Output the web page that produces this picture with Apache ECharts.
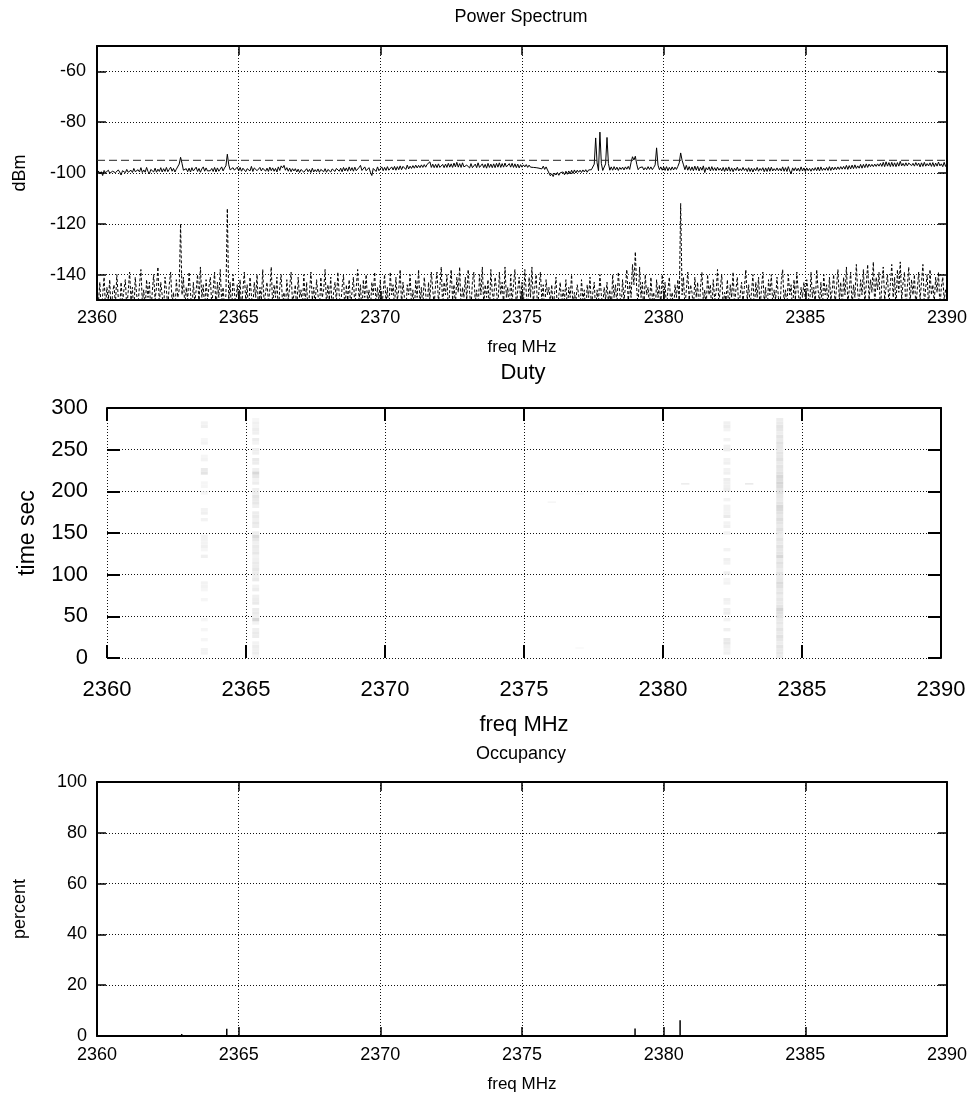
<!DOCTYPE html>
<html>
<head>
<meta charset="utf-8">
<title>Spectrum survey 2360–2390 MHz</title>
<script src="https://cdn.jsdelivr.net/npm/echarts@6/dist/echarts.min.js"></script>
<style>
  html, body { margin: 0; padding: 0; background: #fff; }
  #chart { width: 974px; height: 1095px; }
</style>
</head>
<body>
<div id="chart"></div>
<script>
// ---- sweep settings shared by the three panels ----
const FREQ_MIN = 2360, FREQ_MAX = 2390, FREQ_TICK = 5;
const BIN_MHZ = 0.05;            // sweep bin width
const THRESHOLD_DBM = -95;       // detection threshold

// Peak-hold power, dBm; each row starts at the given MHz and holds one value per bin
const SPECTRUM_ROWS = [
  [2360, [-100.6,-99.2,-100.3,-99.5,-101.0, -99.0,-99.9,-100.5,-98.9,-100.1, -100.7,-99.3,-98.6,-99.9,-100.4, -98.8,-99.6,-100.8,-99.1,-98.7]],
  [2361, [-99.9,-98.6,-99.7,-100.4,-98.9, -99.8,-98.2,-99.5,-100.2,-98.7, -99.6,-97.9,-99.8,-98.8,-99.7, -97.8,-99.4,-100.3,-98.6,-98.3]],
  [2362, [-99.6,-98.1,-99.7,-98.5,-99.4, -97.9,-99.6,-98.3,-99.4,-97.8, -99.5,-98.6,-97.7,-99.3,-98.2, -99.6,-98.5,-97.9,-96.5,-93.8]],
  [2363, [-96.2,-98.9,-99.4,-98.3,-99.5, -98.1,-99.6,-97.9,-99.2,-98.8, -97.7,-99.4,-98.2,-99.7,-98.4, -97.6,-99.3,-98.0,-99.2,-98.6]],
  [2364, [-99.1,-98.2,-99.4,-97.8,-99.6, -98.0,-99.3,-98.5,-97.6,-99.2, -98.0,-97.2,-92.6,-96.8,-98.8, -99.3,-97.9,-98.9,-99.4,-97.7]],
  [2365, [-99.2,-97.8,-99.3,-98.1,-97.6, -99.5,-98.3,-97.7,-99.2,-97.4, -99.4,-98.0,-97.6,-99.1,-99.6, -97.8,-99.2,-98.1,-97.5,-99.3]],
  [2366, [-98.1,-99.4,-97.7,-99.1,-98.0, -99.3,-98.2,-99.6,-97.6,-99.0, -97.2,-98.0,-97.0,-98.9,-97.9, -99.3,-98.1,-99.5,-98.3,-99.2]],
  [2367, [-98.3,-99.6,-98.5,-99.8,-98.6, -98.0,-99.7,-99.9,-98.3,-99.5, -98.6,-99.8,-98.1,-99.6,-98.7, -99.5,-98.4,-99.7,-98.6,-98.0]],
  [2368, [-99.5,-98.3,-99.7,-98.6,-98.0, -99.6,-98.4,-97.9,-99.4,-98.2, -97.9,-99.3,-98.1,-99.5,-97.8, -99.2,-98.0,-99.3,-97.6,-99.1]],
  [2369, [-97.9,-99.3,-97.7,-99.1,-99.4, -97.8,-97.0,-99.0,-99.2,-97.6, -99.1,-99.4,-97.9,-99.7,-101.0, -98.2,-97.7,-99.4,-97.6,-99.1]],
  [2370, [-99.3,-97.6,-99.1,-97.8,-99.0, -97.5,-98.9,-99.2,-97.6,-98.8, -97.4,-98.9,-97.5,-98.7,-97.2, -98.7,-97.4,-97.1,-98.6,-96.9]],
  [2371, [-98.4,-97.3,-98.2,-97.1,-98.1, -96.9,-98.0,-97.0,-97.9,-96.8, -97.8,-96.7,-97.7,-96.6,-96.2, -95.6,-97.8,-96.5,-97.9,-96.6]],
  [2372, [-97.9,-96.4,-97.8,-98.0,-96.6, -97.9,-96.5,-97.8,-96.2,-97.7, -96.4,-97.8,-96.1,-97.6,-95.8, -97.7,-96.3,-97.8,-96.0,-97.6]],
  [2373, [-97.8,-96.9,-97.6,-98.0,-96.3, -97.9,-98.1,-96.5,-97.9,-96.0, -97.8,-98.0,-96.4,-97.9,-96.6, -98.1,-96.2,-97.8,-96.5,-97.9]],
  [2374, [-96.4,-97.9,-96.2,-97.7,-96.0, -97.8,-96.3,-97.7,-96.1,-97.6, -97.9,-96.3,-97.7,-96.2,-97.8, -96.4,-97.9,-96.5,-98.0,-96.7]],
  [2375, [-97.7,-96.8,-97.6,-96.7,-97.8, -96.9,-97.7,-97.0,-97.8,-97.1, -97.9,-97.2,-98.1,-97.4,-98.4, -97.3,-98.6,-97.6,-98.8,-99.1]],
  [2376, [-101.1,-100.3,-101.4,-100.0,-100.8, -99.8,-100.9,-99.9,-100.6,-99.6, -100.7,-99.3,-100.5,-99.2,-100.4, -98.9,-100.2,-98.8,-100.0,-98.9]],
  [2377, [-99.7,-98.9,-99.8,-98.8,-99.6, -98.7,-99.7,-98.8,-99.5,-98.7, -98.9,-96.5,-86.2,-96.0,-99.1, -83.9,-96.2,-99.0,-98.8,-96.4]],
  [2378, [-86.0,-96.3,-98.9,-97.6,-98.9, -97.5,-98.8,-97.7,-99.0,-97.8, -98.6,-97.7,-98.8,-97.6,-98.5, -97.4,-98.6,-95.8,-93.6,-94.9]],
  [2379, [-93.4,-96.6,-98.7,-97.9,-98.6, -97.6,-98.8,-97.9,-98.7,-97.5, -98.6,-97.6,-98.7,-97.8,-96.8, -90.1,-96.9,-98.7,-97.6,-98.9]],
  [2380, [-97.6,-99.0,-97.5,-99.1,-97.8, -98.9,-97.6,-98.8,-97.7,-98.6, -97.4,-96.0,-92.1,-95.0,-96.8, -98.7,-97.0,-98.9,-97.5,-99.0]],
  [2381, [-97.6,-99.1,-97.3,-98.9,-97.4, -99.2,-97.7,-98.9,-97.2,-99.8, -97.9,-98.8,-97.6,-99.2,-97.5, -99.0,-97.9,-99.1,-97.7,-98.9]],
  [2382, [-98.1,-99.2,-97.8,-99.4,-97.9, -99.2,-97.6,-99.3,-98.0,-99.5, -98.1,-99.0,-97.7,-99.2,-98.3, -99.1,-97.8,-99.0,-98.2,-99.4]],
  [2383, [-97.9,-99.4,-98.1,-99.6,-98.2, -99.1,-97.8,-99.3,-98.2,-99.0, -97.9,-99.5,-98.0,-99.4,-97.8, -99.3,-97.7,-99.2,-98.3,-99.1]],
  [2384, [-98.0,-99.1,-98.2,-99.2,-97.6, -99.3,-97.9,-99.4,-97.5,-99.2, -100.3,-98.0,-99.1,-97.9,-99.2, -98.1,-99.3,-97.6,-99.2,-98.0]],
  [2385, [-99.4,-98.0,-99.1,-98.2,-99.3, -98.1,-99.0,-97.9,-99.1,-97.7, -99.2,-97.6,-99.0,-98.1,-98.9, -97.8,-99.0,-97.5,-99.0,-97.7]],
  [2386, [-98.8,-97.7,-98.7,-97.6,-98.6, -97.5,-98.5,-97.4,-98.5,-97.0, -98.6,-97.1,-98.4,-96.9,-98.3, -96.8,-98.2,-97.2,-98.1,-96.6]],
  [2387, [-98.1,-96.6,-97.9,-96.4,-97.8, -96.5,-97.5,-96.6,-97.5,-96.5, -97.4,-96.4,-97.3,-96.2,-97.4, -95.8,-97.5,-95.6,-97.3,-95.9]],
  [2388, [-97.5,-95.8,-97.4,-96.0,-97.5, -95.9,-97.3,-95.4,-97.2,-96.2, -97.3,-96.0,-97.2,-96.1,-95.5, -97.1,-96.2,-97.3,-95.9,-97.1]],
  [2389, [-96.1,-97.6,-96.0,-97.4,-95.8, -97.3,-96.3,-97.2,-96.0,-97.4, -95.9,-97.5,-96.1,-97.3,-95.7, -97.2,-96.4,-97.5,-95.8,-97.4]],
  [2390, [-96.7]]
];

// Per-bin floor (minimum) power, dBm, same row layout
const FLOOR_ROWS = [
  [2360, [-146,-151,-143,-155,-148, -141,-153,-145,-150,-142, -156,-147,-144,-152,-140, -149,-154,-143,-151,-146]],
  [2361, [-142,-153,-147,-139,-150, -145,-156,-141,-148,-152, -144,-138,-151,-146,-154, -142,-149,-143,-155,-147]],
  [2362, [-140,-150,-145,-137,-152, -143,-148,-155,-141,-146, -153,-144,-139,-151,-147, -156,-142,-149,-146,-120]],
  [2363, [-148,-141,-153,-145,-150, -139,-147,-155,-143,-151, -146,-140,-152,-137,-149, -144,-154,-142,-150,-145]],
  [2364, [-141,-152,-146,-139,-155, -143,-149,-138,-151,-145, -153,-148,-114,-150,-143, -156,-140,-147,-152,-144]],
  [2365, [-150,-142,-154,-146,-139, -151,-144,-157,-141,-148, -153,-143,-149,-140,-155, -145,-150,-138,-152,-147]],
  [2366, [-143,-151,-146,-137,-153, -144,-149,-141,-156,-145, -140,-152,-147,-154,-142, -150,-145,-139,-151,-148]],
  [2367, [-144,-155,-141,-149,-146, -153,-140,-151,-143,-157, -147,-139,-150,-145,-152, -142,-148,-154,-141,-149]],
  [2368, [-146,-138,-152,-144,-150, -141,-155,-147,-143,-151, -139,-148,-153,-145,-140, -156,-144,-150,-142,-152]],
  [2369, [-147,-141,-153,-145,-138, -150,-144,-156,-142,-149, -140,-151,-146,-154,-143, -148,-139,-152,-145,-150]],
  [2370, [-142,-154,-147,-140,-151, -145,-157,-139,-148,-144, -153,-141,-150,-146,-138, -152,-143,-149,-155,-144]],
  [2371, [-148,-140,-152,-146,-155, -142,-149,-138,-151,-145, -153,-141,-147,-156,-143, -150,-139,-146,-152,-144]],
  [2372, [-139,-151,-145,-137,-153, -143,-148,-140,-155,-146, -138,-150,-144,-152,-141, -147,-137,-154,-145,-149]],
  [2373, [-141,-150,-138,-147,-153, -143,-139,-151,-146,-155, -140,-148,-137,-152,-144, -149,-142,-156,-138,-147]],
  [2374, [-150,-141,-146,-154,-139, -148,-143,-152,-137,-149, -145,-156,-140,-151,-144, -138,-153,-146,-141,-150]],
  [2375, [-143,-152,-138,-147,-155, -141,-149,-137,-151,-145, -140,-154,-146,-139,-150, -144,-156,-142,-148,-145]],
  [2376, [-151,-144,-154,-147,-141, -156,-148,-143,-152,-146, -150,-142,-155,-145,-149, -140,-153,-147,-151,-144]],
  [2377, [-148,-154,-142,-150,-146, -157,-144,-149,-141,-153, -147,-143,-155,-146,-151, -140,-148,-152,-145,-150]],
  [2378, [-143,-151,-146,-155,-140, -149,-144,-152,-139,-147, -153,-142,-150,-145,-138, -151,-143,-149,-136,-144]],
  [2379, [-131,-146,-152,-137,-149, -143,-155,-140,-148,-145, -153,-141,-150,-147,-156, -142,-149,-144,-152,-140]],
  [2380, [-150,-143,-154,-146,-141, -152,-147,-155,-144,-149, -142,-151,-112,-148,-141, -153,-146,-139,-150,-144]],
  [2381, [-147,-154,-141,-149,-143, -156,-145,-139,-151,-146, -153,-140,-148,-144,-155, -142,-150,-147,-138,-152]],
  [2382, [-145,-140,-153,-147,-150, -142,-156,-144,-149,-139, -152,-146,-141,-154,-148, -143,-151,-145,-138,-150]],
  [2383, [-144,-152,-147,-140,-155, -143,-149,-141,-153,-146, -139,-151,-145,-157,-142, -148,-140,-152,-146,-150]],
  [2384, [-141,-149,-155,-143,-138, -151,-146,-153,-140,-148, -144,-156,-142,-150,-139, -147,-152,-145,-149,-143]],
  [2385, [-150,-142,-147,-154,-139, -149,-145,-152,-138,-146, -151,-143,-155,-140,-148, -144,-153,-141,-150,-146]],
  [2386, [-140,-152,-145,-138,-150, -143,-155,-141,-148,-137, -151,-146,-139,-153,-144, -149,-136,-147,-152,-142]],
  [2387, [-148,-138,-151,-144,-136, -150,-142,-147,-135,-153, -141,-146,-139,-155,-143, -137,-150,-145,-140,-152]],
  [2388, [-144,-136,-149,-141,-153, -138,-147,-135,-150,-143, -139,-155,-145,-137,-151, -142,-148,-140,-153,-146]],
  [2389, [-139,-150,-143,-136,-152, -145,-140,-154,-138,-148, -144,-151,-141,-147,-139, -153,-145,-141,-150,-146]],
  [2390, [-148]]
];

// Duty: percent of each 4 s slot that a channel was above threshold (slot 0 = 0..4 s)
const DUTY_SLOT_SEC = 4;
const DUTY_CELL_MHZ = 0.25;
const DUTY_2363_5 = [
  0,4,4,0,0,3,0,0,  3,0,0,3,0,0,0,0,  0,3,0,0,3,4,4,0,  0,0,0,0,0,0,5,0,
  3,5,4,4,4,0,0,0,  0,4,0,5,4,0,0,0,  0,3,0,3,3,0,0,9,  7,0,0,4,3,0,0,0,
  4,3,0,0,0,5,4,0
];
const DUTY_2365_35 = [
  3,6,5,6,4,0,6,7,  5,0,4,13,5,7,6,0,  7,6,5,0,6,4,0,7,  5,6,8,6,7,5,4,8,
  6,7,5,8,12,6,0,6,  8,5,7,6,0,5,8,7,  9,6,5,0,6,4,8,13,  5,0,6,7,0,5,6,0,
  4,6,0,5,6,4,5,3
];
const DUTY_2382_3 = [
  0,5,4,5,8,7,0,0,  5,0,0,4,0,6,5,0,  4,5,0,0,0,0,4,3,  0,5,0,0,4,5,0,0,
  4,0,0,0,0,4,0,5,  4,0,7,4,4,4,0,4,  0,0,6,5,5,6,0,5,  4,0,5,4,0,0,6,5,
  0,4,0,0,4,6,5,0
];
const DUTY_2384_2 = [
  6,8,7,9,6,8,10,7,  9,6,8,7,10,11,14,9,  7,8,6,9,7,10,12,8,  7,9,6,8,10,7,13,9,
  8,10,7,9,6,8,10,7,  9,11,8,10,12,13,9,7,  8,10,9,12,14,11,13,10,  8,9,7,10,8,9,7,8,
  10,7,9,6,8,9,7,6
];
const DUTY_CHANNELS = [2363.5, 2365.35, 2382.3, 2384.2];
const DUTY_SERIES = [DUTY_2363_5, DUTY_2365_35, DUTY_2382_3, DUTY_2384_2];
// isolated short bursts: [MHz, sec, duty %]
const DUTY_BURSTS = [[2380.8, 209, 6], [2383.1, 209, 7], [2376.0, 187, 3], [2377.0, 197, 2], [2377.0, 12, 2]];

// Occupancy: percent of sweeps above threshold, non-zero channels only
const OCC_FREQ = [2362.99, 2364.58, 2378.99, 2380.58];
const OCC_PERCENT = [0.8, 2.9, 3.0, 6.2];

// ---- build series data ----
function rowsToPairs(rows) {
  const out = [];
  rows.forEach(([start, vals]) => {
    vals.forEach((v, j) => out.push([+(start + j * BIN_MHZ).toFixed(2), v]));
  });
  return out;
}
const spectrumData = rowsToPairs(SPECTRUM_ROWS);
const floorData = rowsToPairs(FLOOR_ROWS);

const dutyCells = [];
DUTY_CHANNELS.forEach((f, c) => {
  DUTY_SERIES[c].forEach((d, k) => {
    if (d > 0) dutyCells.push([f, k * DUTY_SLOT_SEC, (k + 1) * DUTY_SLOT_SEC, d, DUTY_CELL_MHZ]);
  });
});
DUTY_BURSTS.forEach(([f, t, d]) => dutyCells.push([f, t - 1, t + 1, d, 0.3]));

const occData = OCC_FREQ.map((f, i) => [f, OCC_PERCENT[i]]);

// ---- styling helpers ----
const FONT = '"Liberation Sans", Arial, Helvetica, sans-serif';
const INK = '#000';
const plain = v => String(v);

function panelAxes(g, p) {
  const tick = { show: true, inside: true, length: p.tickLen, lineStyle: { color: INK, width: p.tickWidth } };
  const frame = show => ({ show: show, onZero: false, lineStyle: { color: INK, width: p.frameWidth } });
  const dotted = { show: true, lineStyle: { color: '#111', width: 1, type: [1, 2] } };
  const text = size => ({ fontFamily: FONT, fontSize: size, color: INK });
  const xBase = { type: 'value', gridIndex: g, min: FREQ_MIN, max: FREQ_MAX, interval: FREQ_TICK };
  const yBase = { type: 'value', gridIndex: g, min: p.yMin, max: p.yMax };
  if (p.yInterval) yBase.interval = p.yInterval; else yBase.splitNumber = p.ySplit;
  const x = [
    Object.assign({}, xBase, {
      position: 'bottom',
      name: 'freq MHz', nameLocation: 'middle', nameGap: p.xNameGap, nameTextStyle: text(p.nameSize),
      axisLine: frame(p.solidFrame), axisTick: tick,
      axisLabel: Object.assign(text(p.labelSize), { margin: p.xLabelMargin, formatter: plain, showMinLabel: true, showMaxLabel: true }),
      splitLine: dotted
    }),
    Object.assign({}, xBase, {
      position: 'top', axisLine: frame(true), axisTick: tick,
      axisLabel: { show: false }, splitLine: { show: false }
    })
  ];
  const y = [
    Object.assign({}, yBase, {
      position: 'left',
      name: p.yName, nameLocation: 'middle', nameRotate: 90, nameGap: p.yNameGap, nameTextStyle: text(p.yNameSize || p.nameSize),
      axisLine: frame(p.solidFrame), axisTick: tick,
      axisLabel: Object.assign(text(p.labelSize), { margin: p.yLabelMargin, formatter: plain, showMinLabel: p.endLabels, showMaxLabel: p.endLabels }),
      splitLine: dotted
    }),
    Object.assign({}, yBase, {
      position: 'right', axisLine: frame(true), axisTick: tick,
      axisLabel: { show: false }, splitLine: { show: false }
    })
  ];
  return { x, y };
}

const power = panelAxes(0, {
  yMin: -150, yMax: -50, ySplit: 5, yName: 'dBm', endLabels: false, solidFrame: true,
  tickLen: 9, tickWidth: 1.5, frameWidth: 2, labelSize: 18, nameSize: 17, yNameSize: 18,
  xLabelMargin: 9, yLabelMargin: 11, xNameGap: 39, yNameGap: 68
});
const duty = panelAxes(1, {
  yMin: 0, yMax: 300, yInterval: 50, yName: 'time sec', endLabels: true, solidFrame: false,
  tickLen: 13, tickWidth: 2, frameWidth: 2, labelSize: 22, nameSize: 22, yNameSize: 23,
  xLabelMargin: 21, yLabelMargin: 19, xNameGap: 56, yNameGap: 68
});
const occupancy = panelAxes(2, {
  yMin: 0, yMax: 100, yInterval: 20, yName: 'percent', endLabels: true, solidFrame: true,
  tickLen: 9, tickWidth: 1.5, frameWidth: 2, labelSize: 18, nameSize: 17, yNameSize: 18,
  xLabelMargin: 10, yLabelMargin: 10, xNameGap: 40, yNameGap: 68
});

const titleStyle = size => ({ fontFamily: FONT, fontSize: size, fontWeight: 'normal', color: INK });

const option = {
  animation: false,
  backgroundColor: '#fff',
  title: [
    { text: 'Power Spectrum', left: 521, top: 8, textAlign: 'center', padding: 0, textStyle: titleStyle(18) },
    { text: 'Duty', left: 523, top: 362, textAlign: 'center', padding: 0, textStyle: titleStyle(22) },
    { text: 'Occupancy', left: 521, top: 745, textAlign: 'center', padding: 0, textStyle: titleStyle(18) }
  ],
  grid: [
    { left: 97, top: 46, width: 850, height: 254, containLabel: false, outerBoundsMode: 'none' },
    { left: 107, top: 408, width: 834, height: 250, containLabel: false, outerBoundsMode: 'none' },
    { left: 97, top: 782, width: 850, height: 254, containLabel: false, outerBoundsMode: 'none' }
  ],
  xAxis: [].concat(power.x, duty.x, occupancy.x),
  yAxis: [].concat(power.y, duty.y, occupancy.y),
  series: [
    {
      name: 'floor', type: 'line', xAxisIndex: 0, yAxisIndex: 0, data: floorData,
      symbol: 'none', silent: true, z: 2,
      lineStyle: { color: INK, width: 1, type: [3, 2] }
    },
    {
      name: 'peak', type: 'line', xAxisIndex: 0, yAxisIndex: 0, data: spectrumData,
      symbol: 'none', silent: true, z: 3,
      lineStyle: { color: INK, width: 1 }
    },
    {
      name: 'threshold', type: 'line', xAxisIndex: 0, yAxisIndex: 0,
      data: [[FREQ_MIN, THRESHOLD_DBM], [FREQ_MAX, THRESHOLD_DBM]],
      symbol: 'none', silent: true, z: 4,
      lineStyle: { color: '#222', width: 1, type: [8, 4] }
    },
    {
      name: 'duty', type: 'custom', xAxisIndex: 2, yAxisIndex: 2, data: dutyCells,
      encode: { x: 0, y: [1, 2] }, silent: true, z: 1,
      renderItem: function (params, api) {
        const f = api.value(0), t0 = api.value(1), t1 = api.value(2), d = api.value(3), w = api.value(4);
        const a = api.coord([f - w / 2, t1]);
        const b = api.coord([f + w / 2, t0]);
        const g = Math.max(0, Math.round(255 - 3 * d));
        return {
          type: 'rect',
          shape: { x: a[0], y: a[1], width: b[0] - a[0], height: b[1] - a[1] },
          style: { fill: 'rgb(' + g + ',' + g + ',' + g + ')' }
        };
      }
    },
    {
      name: 'occupancy', type: 'custom', xAxisIndex: 4, yAxisIndex: 4, data: occData,
      encode: { x: 0, y: 1 }, silent: true, z: 3,
      renderItem: function (params, api) {
        const base = api.coord([api.value(0), 0]);
        const top = api.coord([api.value(0), api.value(1)]);
        return {
          type: 'line',
          shape: { x1: base[0], y1: base[1], x2: top[0], y2: top[1] },
          style: { stroke: INK, lineWidth: 1.5 }
        };
      }
    }
  ]
};

const chart = echarts.init(document.getElementById('chart'), null, { renderer: 'canvas' });
chart.setOption(option);
</script>
</body>
</html>
